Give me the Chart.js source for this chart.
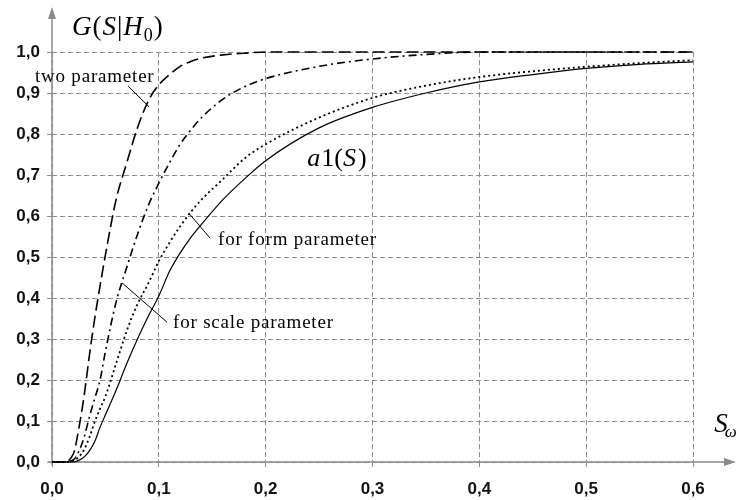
<!DOCTYPE html>
<html>
<head>
<meta charset="utf-8">
<script src="https://cdn.jsdelivr.net/npm/chart.js@4/dist/chart.umd.min.js"></script>
<style>
html, body { margin: 0; padding: 0; background: #fff; }
</style>
</head>
<body>
<canvas id="cdfChart" width="736" height="500"></canvas>
<script>
// S values (x) shared by all curves
const sValues   = [0, 0.01, 0.02, 0.025, 0.03, 0.035, 0.04, 0.045, 0.05, 0.06, 0.07, 0.08, 0.09, 0.1,
                   0.11, 0.12, 0.13, 0.14, 0.16, 0.18, 0.2, 0.25, 0.3, 0.35, 0.4, 0.45, 0.5, 0.55, 0.6];
const twoParam   = [0, 0, 0.02, 0.08, 0.16, 0.26, 0.35, 0.43, 0.505, 0.64, 0.73, 0.815, 0.88, 0.92,
                   0.945, 0.965, 0.977, 0.985, 0.993, 0.997, 1.0, 1.0, 1.0, 1.0, 1.0, 1.0, 1.0, 1.0, 1.0];
const scaleParam = [0, 0, 0.005, 0.025, 0.06, 0.11, 0.155, 0.2, 0.27, 0.39, 0.475, 0.555, 0.625, 0.68,
                   0.73, 0.775, 0.81, 0.84, 0.885, 0.915, 0.935, 0.965, 0.983, 0.994, 1.0, 1.0, 1.0, 1.0, 1.0];
const formParam  = [0, 0, 0.003, 0.012, 0.03, 0.06, 0.098, 0.13, 0.16, 0.24, 0.32, 0.385, 0.435, 0.49,
                   0.535, 0.575, 0.61, 0.64, 0.69, 0.74, 0.775, 0.84, 0.888, 0.918, 0.939, 0.953, 0.964, 0.973, 0.98];
const a1Values   = [0, 0, 0, 0.004, 0.012, 0.027, 0.05, 0.085, 0.115, 0.175, 0.24, 0.3, 0.355, 0.405,
                   0.465, 0.51, 0.548, 0.58, 0.64, 0.69, 0.735, 0.815, 0.865, 0.9, 0.927, 0.945, 0.96, 0.97, 0.976];

const xTickValues = [0, 0.1, 0.2, 0.3, 0.4, 0.5, 0.6];
const yTickValues = [0, 0.1, 0.2, 0.3, 0.4, 0.5, 0.6, 0.7, 0.8, 0.9, 1.0];

const GRID = '#8c8c8c';
const AXIS = '#8a8a8a';
const SERIF = '"Liberation Serif", "DejaVu Serif", serif';

function pts(ys) {
    return sValues.map((s, i) => ({ x: s, y: ys[i] }));
}

function curve(label, ys, dash, width) {
    return {
        label: label,
        data: pts(ys),
        borderColor: '#000',
        borderWidth: width,
        borderDash: dash,
        pointRadius: 0,
        fill: false,
        cubicInterpolationMode: 'monotone',
        clip: 4
    };
}

function commaLabel(v) {
    return Number(v).toFixed(1).replace('.', ',');
}

// arrows on the axes plus the text labels and leader lines
const decorations = {
    id: 'decorations',
    beforeDatasetsDraw(chart) {
        const ctx = chart.ctx;
        const a = chart.chartArea;
        ctx.save();
        ctx.strokeStyle = AXIS;
        ctx.fillStyle = AXIS;
        ctx.lineWidth = 1.5;
        ctx.setLineDash([]);
        ctx.beginPath();
        ctx.moveTo(a.left, a.bottom + 3);
        ctx.lineTo(a.left, 16);
        ctx.moveTo(a.left - 4, a.bottom);
        ctx.lineTo(726, a.bottom);
        ctx.stroke();
        ctx.beginPath();
        ctx.moveTo(a.left, 7);
        ctx.lineTo(a.left - 4, 19);
        ctx.lineTo(a.left + 4, 19);
        ctx.closePath();
        ctx.fill();
        ctx.beginPath();
        ctx.moveTo(736, a.bottom);
        ctx.lineTo(724, a.bottom - 4);
        ctx.lineTo(724, a.bottom + 4);
        ctx.closePath();
        ctx.fill();
        ctx.restore();
    },
    afterDatasetsDraw(chart) {
        const ctx = chart.ctx;
        const xs = chart.scales.x, ys = chart.scales.y;
        const P = (x, y) => [xs.getPixelForValue(x), ys.getPixelForValue(y)];

        ctx.save();
        ctx.strokeStyle = '#000';
        ctx.lineWidth = 1;
        ctx.setLineDash([]);
        const leaders = [
            [[0.0712, 0.917], [0.0909, 0.866]],
            [[0.128, 0.607], [0.148, 0.546]],
            [[0.0655, 0.437], [0.1077, 0.341]]
        ];
        leaders.forEach(l => {
            const p0 = P(l[0][0], l[0][1]), p1 = P(l[1][0], l[1][1]);
            ctx.beginPath();
            ctx.moveTo(p0[0], p0[1]);
            ctx.lineTo(p1[0], p1[1]);
            ctx.stroke();
        });

        ctx.fillStyle = '#000';
        ctx.textBaseline = 'alphabetic';
        ctx.textAlign = 'left';
        ctx.font = '19px ' + SERIF;
        ctx.letterSpacing = '0.8px';
        let p = P(-0.016, 0.927);
        ctx.fillText('two parameter', p[0], p[1]);
        p = P(0.1554, 0.529);
        ctx.fillText('for form parameter', p[0], p[1]);
        p = P(0.1133, 0.327);
        ctx.fillText('for scale parameter', p[0], p[1]);
        ctx.letterSpacing = '0px';

        // a1(S)
        p = P(0.239, 0.722);
        let x = p[0];
        ctx.font = 'italic 26px ' + SERIF;
        ctx.fillText('a', x, p[1]); x += ctx.measureText('a').width + 1;
        ctx.font = '26px ' + SERIF;
        ctx.fillText('1(', x, p[1]); x += ctx.measureText('1(').width;
        ctx.font = 'italic 26px ' + SERIF;
        ctx.fillText('S', x, p[1]); x += ctx.measureText('S').width + 2;
        ctx.font = '26px ' + SERIF;
        ctx.fillText(')', x, p[1]);

        // G(S|H0)
        p = P(0.0187, 1.041);
        x = p[0];
        const parts = [['G', 'italic 27px'], ['(', '27px'], ['S', 'italic 27px'], ['|', '27px'], ['H', 'italic 27px']];
        parts.forEach(pt => {
            ctx.font = pt[1] + ' ' + SERIF;
            ctx.fillText(pt[0], x, p[1]);
            x += ctx.measureText(pt[0]).width + 1;
        });
        ctx.font = '18px ' + SERIF;
        ctx.fillText('0', x, p[1] + 6); x += ctx.measureText('0').width + 1;
        ctx.font = '27px ' + SERIF;
        ctx.fillText(')', x, p[1]);

        // S_omega at the end of the x axis
        p = P(0.62, 0.073);
        ctx.font = 'italic 27px ' + SERIF;
        ctx.fillText('S', p[0], p[1]);
        ctx.font = 'italic 17px ' + SERIF;
        ctx.fillText('\u03c9', p[0] + ctx.measureText('S').width + 2, p[1] + 5);
        ctx.restore();
    }
};

const ctx = document.getElementById('cdfChart').getContext('2d');
new Chart(ctx, {
    type: 'line',
    data: {
        datasets: [
            curve('two parameter', twoParam, [12, 5], 1.6),
            curve('for scale parameter', scaleParam, [8, 4, 2, 4], 1.6),
            curve('for form parameter', formParam, [2, 3], 1.8),
            curve('a1(S)', a1Values, [], 1.2)
        ]
    },
    options: {
        responsive: false,
        animation: false,
        layout: { padding: { top: 52, right: 43, left: 0, bottom: 0 } },
        plugins: {
            legend: { display: false },
            tooltip: { enabled: false }
        },
        scales: {
            x: {
                type: 'linear',
                min: 0,
                max: 0.6,
                afterBuildTicks: s => { s.ticks = xTickValues.map(v => ({ value: v })); },
                afterFit: s => { s.height = 38; },
                grid: { color: GRID, lineWidth: 1, tickLength: 5, tickColor: GRID },
                border: { display: false, dash: [5, 3] },
                ticks: {
                    callback: v => commaLabel(v),
                    color: '#111',
                    padding: 12,
                    maxRotation: 0,
                    font: { family: '"Liberation Sans", Arial, sans-serif', weight: 'bold', size: 17 }
                }
            },
            y: {
                type: 'linear',
                min: 0,
                max: 1,
                afterBuildTicks: s => { s.ticks = yTickValues.map(v => ({ value: v })); },
                afterFit: s => { s.width = 52; },
                grid: { color: GRID, lineWidth: 1, tickLength: 5, tickColor: GRID },
                border: { display: false, dash: [5, 3] },
                ticks: {
                    callback: v => commaLabel(v),
                    color: '#111',
                    padding: 7,
                    font: { family: '"Liberation Sans", Arial, sans-serif', weight: 'bold', size: 17 }
                }
            }
        }
    },
    plugins: [decorations]
});
</script>
</body>
</html>
